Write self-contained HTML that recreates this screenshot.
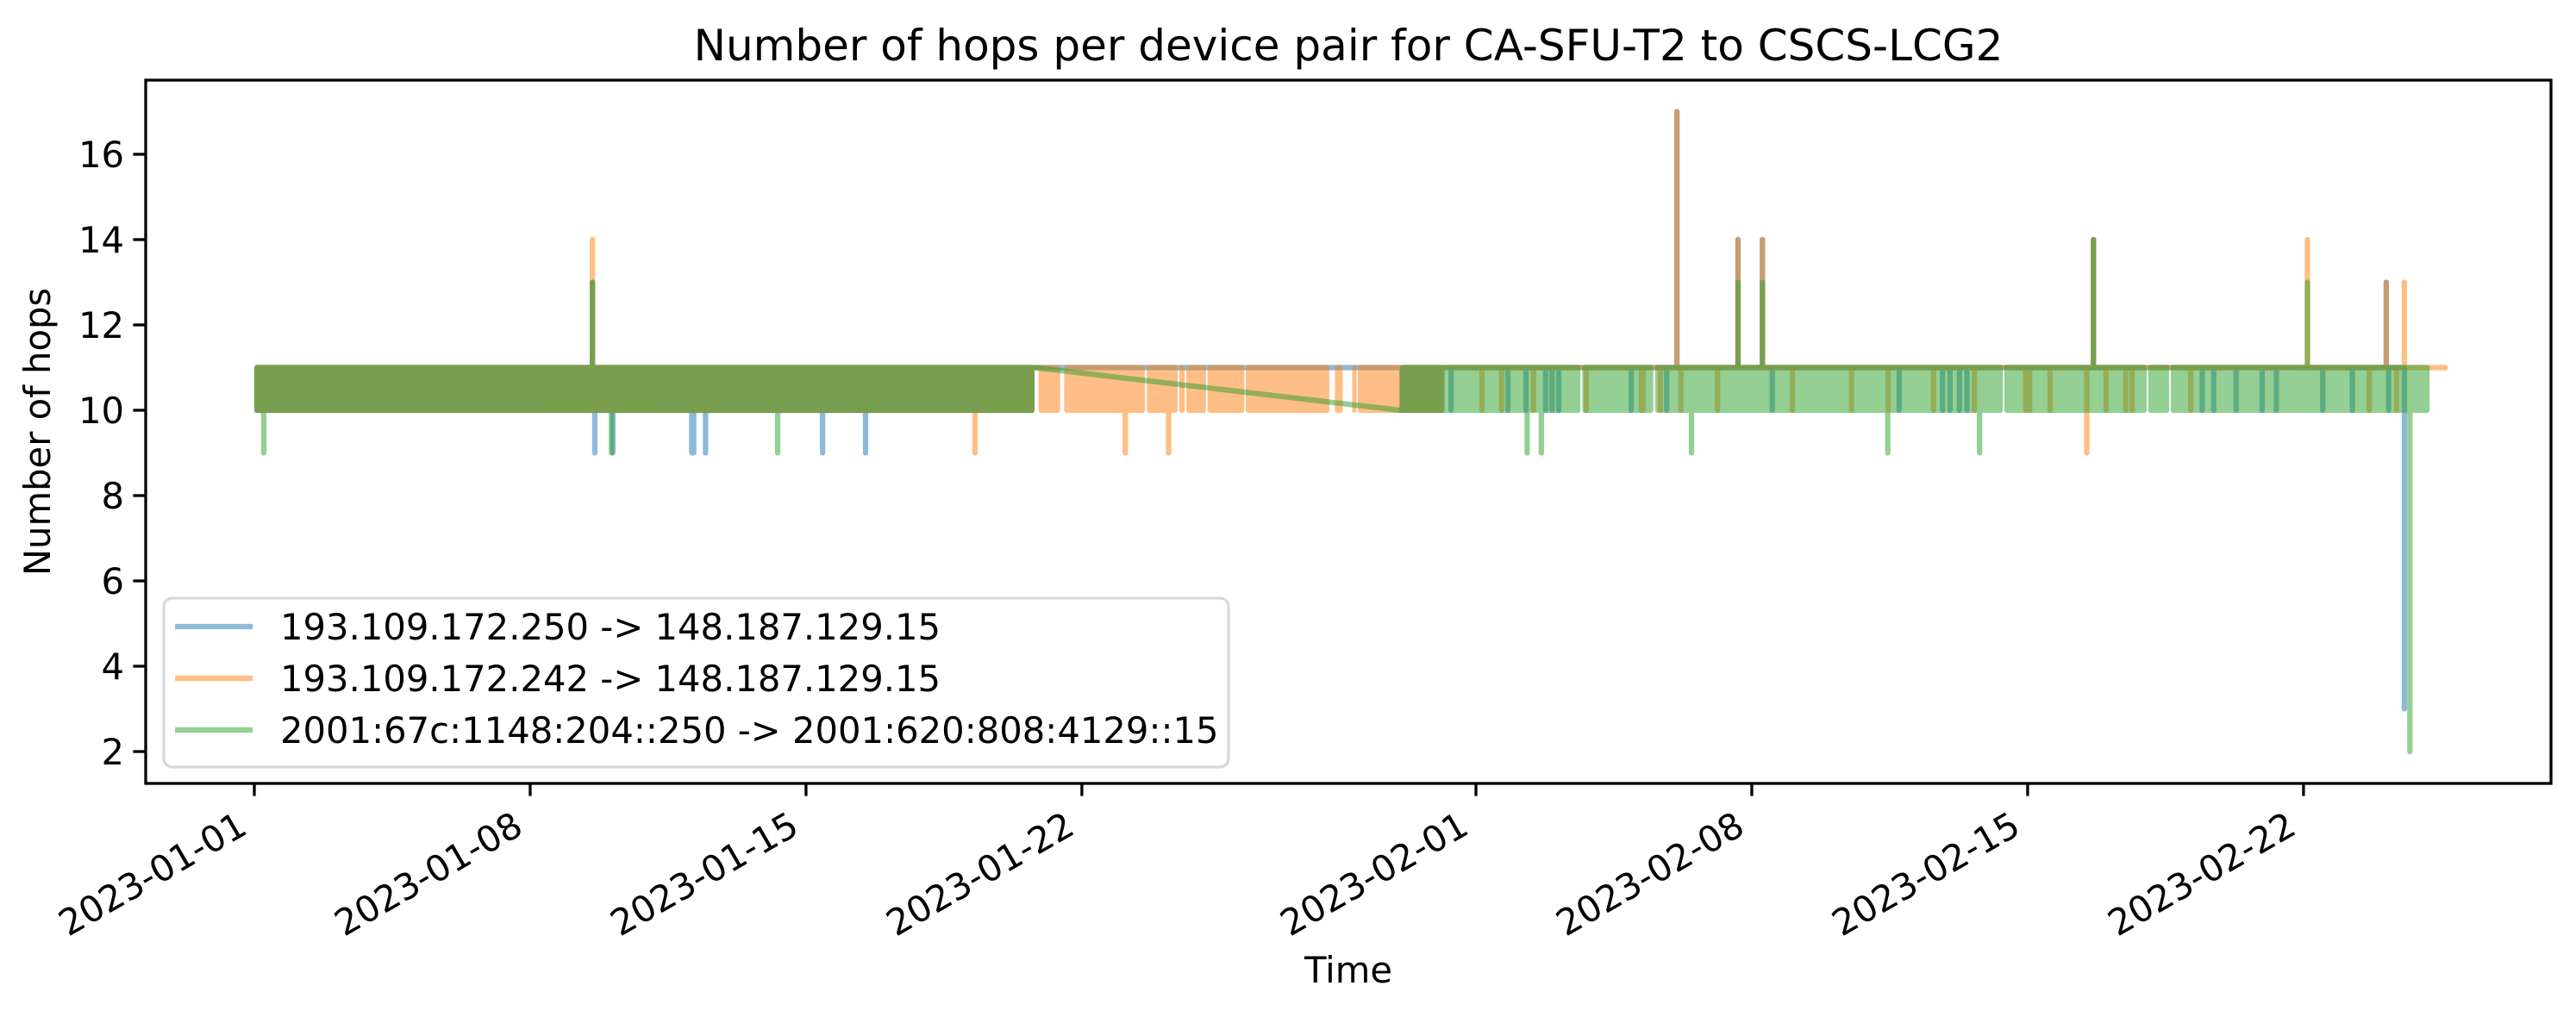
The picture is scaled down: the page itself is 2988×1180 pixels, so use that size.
<!DOCTYPE html>
<html><head><meta charset="utf-8"><style>
html,body{margin:0;padding:0;background:#fff;}
svg{display:block;font-family:"DejaVu Sans","Liberation Sans",sans-serif;}
</style></head><body>
<svg id="chart" width="2988" height="1180" viewBox="0 0 2988 1180" xmlns="http://www.w3.org/2000/svg">
<rect x="0" y="0" width="2988" height="1180" fill="#fff"/>
<text x="1564" y="70" text-anchor="middle" font-size="50">Number of hops per device pair for CA-SFU-T2 to CSCS-LCG2</text>
<g id="plot"></g>
<g id="axes"></g>
<text x="1564" y="1140" text-anchor="middle" font-size="41.7">Time</text>
<text transform="translate(58,501) rotate(-90)" text-anchor="middle" font-size="41.7">Number of hops</text>
<g id="legend"></g>
</svg>
<script>
// ---- data (x in days since 2023-01-01) ----
const seriesNames = ["193.109.172.250 -> 148.187.129.15","193.109.172.242 -> 148.187.129.15","2001:67c:1148:204::250 -> 2001:620:808:4129::15"];
const seriesColors = ["#1f77b4","#ff7f0e","#2ca02c"];
// dense 10<->11 oscillation ranges
const blueBands = [[0,19.8],[29.05,30.2]];
const orangeBands = [[0,19.8],[19.9,20.45],[20.55,22.6],[22.65,23.43],[23.47,23.61],[23.65,24.15],[24.19,25.12],[25.16,27.28],[27.42,27.62],[27.86,27.97],[28.0,30.2]];
const greenBands = [[0,19.8],[29.07,33.65],[33.7,35.5],[35.55,44.37],[44.41,48.02],[48.06,48.59],[48.63,55.2]];
// baseline connecting lines [x0,y0,x1,y1]
const blueLines = [[19.8,11,29.05,11],[30.2,11,54.5,11]];
const orangeLines = [[19.8,11,19.9,11],[30.2,11,55.6,11]];
const greenLines = [[19.8,11,29.07,10]];
// spikes [day, value]
const blueSpikes = [[8.58,13],[8.64,9],[9.1,9],[11.1,9],[11.15,9],[11.45,9],[14.42,9],[15.51,9],[36.1,17],[37.65,14],[38.27,14],[46.67,14],[54.1,13],[54.56,3],
 [30.37,10],[31.81,10],[32.27,10],[32.77,10],[32.93,10],[33.1,10],[34.94,10],[35.84,10],[38.52,10],[41.74,10],[42.84,10],[43.03,10],[43.27,10],[43.46,10],[49.43,10],[49.72,10],[50.29,10],[50.95,10],[51.31,10],[52.49,10],[53.24,10],[54.16,10]];
const orangeSpikes = [[8.58,14],[18.29,9],[22.1,9],[23.2,9],[36.1,17],[37.65,14],[38.27,14],[46.5,9],[46.67,14],[52.1,14],[54.1,13],[54.56,13],
 [31.15,10],[31.65,10],[32.46,10],[33.8,10],[35.2,10],[35.24,10],[35.68,10],[36.2,10],[37.13,10],[39.03,10],[40.53,10],[41.46,10],[42.61,10],[43.65,10],[44.95,10],[45.05,10],[45.57,10],[46.99,10],[47.49,10],[47.65,10],[49.14,10],[53.67,10],[54.36,10]];
const greenSpikes = [[0.24,9],[8.58,13],[9.06,9],[13.28,9],[32.3,9],[32.66,9],[36.47,9],[37.65,13],[38.27,13],[41.45,9],[43.78,9],[46.67,14],[52.1,13],[54.7,2]];
const xTickDays = [0,7,14,21,31,38,45,52];
const xTickLabels = ["2023-01-01","2023-01-08","2023-01-15","2023-01-22","2023-02-01","2023-02-08","2023-02-15","2023-02-22"];
const yTicks = [2,4,6,8,10,12,14,16];

// ---- axes ----
const L=169,R=2959,T=93,B=909;
const X = d => 295 + d*45.71;
const Y = v => 476 - (v-10)*49.5;
const NS="http://www.w3.org/2000/svg";
function mk(tag, attrs, parent){const e=document.createElementNS(NS,tag);for(const k in attrs)e.setAttribute(k,attrs[k]);parent.appendChild(e);return e;}
const plot=document.getElementById('plot');
const axes=document.getElementById('axes');
const legend=document.getElementById('legend');
const LW=6.25;
const allBands=[blueBands,orangeBands,greenBands];
const allLines=[blueLines,orangeLines,greenLines];
const allSpikes=[blueSpikes,orangeSpikes,greenSpikes];
for(let s=0;s<3;s++){
  const g=mk('g',{opacity:0.5},plot);
  
  
  allBands[s].forEach(b=>{
    const r=mk('rect',{x:X(b[0]),y:Y(11)-LW/2,width:X(b[1])-X(b[0]),height:Y(10)-Y(11)+LW,rx:3,fill:seriesColors[s]},g);
    
    
  });
  allLines[s].forEach(l=>{
    const e=mk('line',{x1:X(l[0]),y1:Y(l[1]),x2:X(l[2]),y2:Y(l[3]),stroke:seriesColors[s],'stroke-width':LW,'stroke-linecap':'round'},g);
    
    
  });
  allSpikes[s].forEach(p=>{
    const e=mk('line',{x1:X(p[0]),y1:Y(11),x2:X(p[0]),y2:Y(p[1]),stroke:seriesColors[s],'stroke-width':LW,'stroke-linecap':'round'},g);
    
    
  });
}
// spines
const fr=mk('rect',{x:L,y:T,width:R-L,height:B-T,fill:'none',stroke:'#000','stroke-width':3.3},axes);


yTicks.forEach(v=>{
  const t=mk('line',{x1:L-14.6,x2:L,y1:Y(v),y2:Y(v),stroke:'#000','stroke-width':3.3},axes);
  
  
  const tx=mk('text',{x:L-25,y:Y(v)+15,'text-anchor':'end','font-size':41.7},axes);
  tx.textContent=v;
  
  
});
xTickDays.forEach((d,i)=>{
  const x=X(d);
  const t=mk('line',{x1:x,x2:x,y1:B,y2:B+14.6,stroke:'#000','stroke-width':3.3},axes);
  
  
  const ax=x-6, ay=966;
  const tx=mk('text',{x:ax,y:ay,'text-anchor':'end','font-size':41.7,transform:`rotate(-30 ${ax} ${ay})`},axes);
  tx.textContent=xTickLabels[i];
  
  
});
// legend
const lb=mk('rect',{x:190,y:694,width:1235,height:196,rx:10,fill:'#fff','fill-opacity':0.8,stroke:'#d9d9d9','stroke-width':3.3},legend);


const ly=[727,787,847];
for(let s=0;s<3;s++){
  const ln=mk('line',{x1:203,x2:293,y1:ly[s],y2:ly[s],stroke:seriesColors[s],'stroke-opacity':0.5,'stroke-width':LW},legend);
  
  
  const tx=mk('text',{x:325,y:ly[s]+15,'font-size':41.7},legend);
  tx.textContent=seriesNames[s];
  
  
}
</script>
</body></html>
